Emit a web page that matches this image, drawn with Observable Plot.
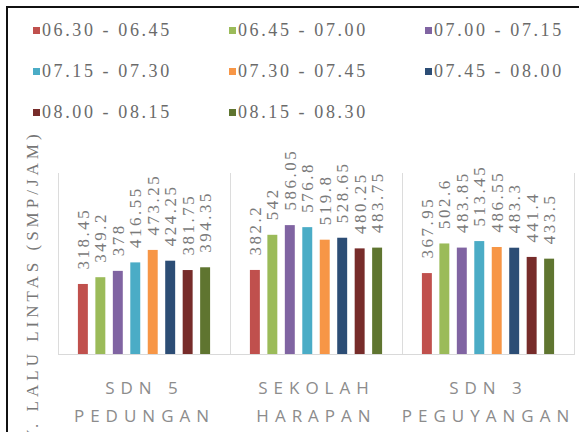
<!DOCTYPE html>
<html>
<head>
<meta charset="utf-8">
<script src="https://cdn.jsdelivr.net/npm/d3@7"></script>
<script src="https://cdn.jsdelivr.net/npm/@observablehq/plot@0.6"></script>
<style>
  html, body { margin: 0; padding: 0; background: #fff; }
  #wrap { position: relative; width: 579px; height: 432px; overflow: hidden; background: #fff; }
  #legend { position: relative; width: 579px; height: 120px; font-family: "Liberation Serif", "Times New Roman", serif; }
  .item { position: absolute; display: flex; align-items: center; white-space: nowrap; height: 20px; }
  .sw { width: 7px; height: 7px; margin-right: 2px; }
  .lt { font-size: 18px; color: #6a6a6a; letter-spacing: 2.6px; }
  #border { position: absolute; left: 6px; top: 6px; right: -4px; bottom: -4px; border-top: 2px solid #111; border-left: 2px solid #111; pointer-events: none; }
  #ytitle { position: absolute; left: 24px; top: 442px; transform-origin: 0 0; transform: rotate(-90deg); white-space: nowrap;
            font-family: "Liberation Serif", "Times New Roman", serif; font-size: 17px; line-height: 18px; color: #777; letter-spacing: 4px; }
  svg { display: block; }
</style>
</head>
<body>
<div id="wrap">
  <div id="legend"></div>
  <div id="chart"></div>
  <div id="ytitle">V. LALU LINTAS (SMP/JAM)</div>
  <div id="border"></div>
</div>
<script>
const groups = ["SDN 5\nPEDUNGAN", "SEKOLAH\nHARAPAN", "SDN 3\nPEGUYANGAN"];
const periods = ["06.30 - 06.45", "06.45 - 07.00", "07.00 - 07.15", "07.15 - 07.30",
                 "07.30 - 07.45", "07.45 - 08.00", "08.00 - 08.15", "08.15 - 08.30"];
const colors = ["#C0504D", "#9BBB59", "#8064A2", "#4BACC6", "#F79646", "#2C4D75", "#772C2A", "#5F7530"];
const sdn5Pedungan = [318.45, 349.2, 378, 416.55, 473.25, 424.25, 381.75, 394.35];
const sekolahHarapan = [382.2, 542, 586.05, 576.8, 519.8, 528.65, 480.25, 483.75];
const sdn3Peguyangan = [367.95, 502.6, 483.85, 513.45, 486.55, 483.3, 441.4, 433.5];

const series = [sdn5Pedungan, sekolahHarapan, sdn3Peguyangan];
const data = groups.flatMap((g, gi) => periods.map((p, pi) => ({group: g, period: p, value: series[gi][pi]})));

// Legend (HTML, above the SVG)
const legend = document.getElementById("legend");
const colX = [33, 229, 425];
const rowY = [20, 61, 102];
periods.forEach((p, i) => {
  const it = document.createElement("div");
  it.className = "item";
  it.style.left = colX[i % 3] + "px";
  it.style.top = rowY[Math.floor(i / 3)] + "px";
  const sw = document.createElement("span");
  sw.className = "sw";
  sw.style.background = colors[i];
  const t = document.createElement("span");
  t.className = "lt";
  t.textContent = p;
  it.appendChild(sw);
  it.appendChild(t);
  legend.appendChild(it);
});

const chart = Plot.plot({
  width: 579,
  height: 312,
  marginTop: 53,
  marginBottom: 78,
  marginLeft: 57,
  marginRight: 5,
  fx: {domain: groups, padding: 0, axis: null},
  x: {domain: periods, paddingInner: 0.43, paddingOuter: 1.14, round: false, axis: null},
  y: {domain: [0, 823], axis: null},
  color: {domain: periods, range: colors},
  marks: [
    Plot.frame({anchor: "left", stroke: "#dcdcdc"}),
    Plot.frame({anchor: "right", stroke: "#dcdcdc"}),
    Plot.ruleY([0], {stroke: "#d9d9d9"}),
    Plot.barY(data, {fx: "group", x: "period", y: "value", fill: "period"}),
    Plot.text(data, {fx: "group", x: "period", y: "value", text: d => String(d.value),
      rotate: -90, textAnchor: "start", dy: -15, fontSize: 17, fill: "#7a7a7a",
      fontFamily: "Liberation Serif"}),
    Plot.text(groups, {fx: d => d, text: d => d, frameAnchor: "bottom", lineAnchor: "top",
      dy: 20, lineHeight: 1.65, fontSize: 17, fill: "#8c8c8c", fontFamily: "Open Sans"})
  ]
});
document.getElementById("chart").appendChild(chart);

const textGroups = chart.querySelectorAll('g[aria-label="text"]');
if (textGroups[0]) textGroups[0].style.letterSpacing = "2.5px";
if (textGroups[1]) textGroups[1].style.letterSpacing = "6px";
</script>
</body>
</html>
